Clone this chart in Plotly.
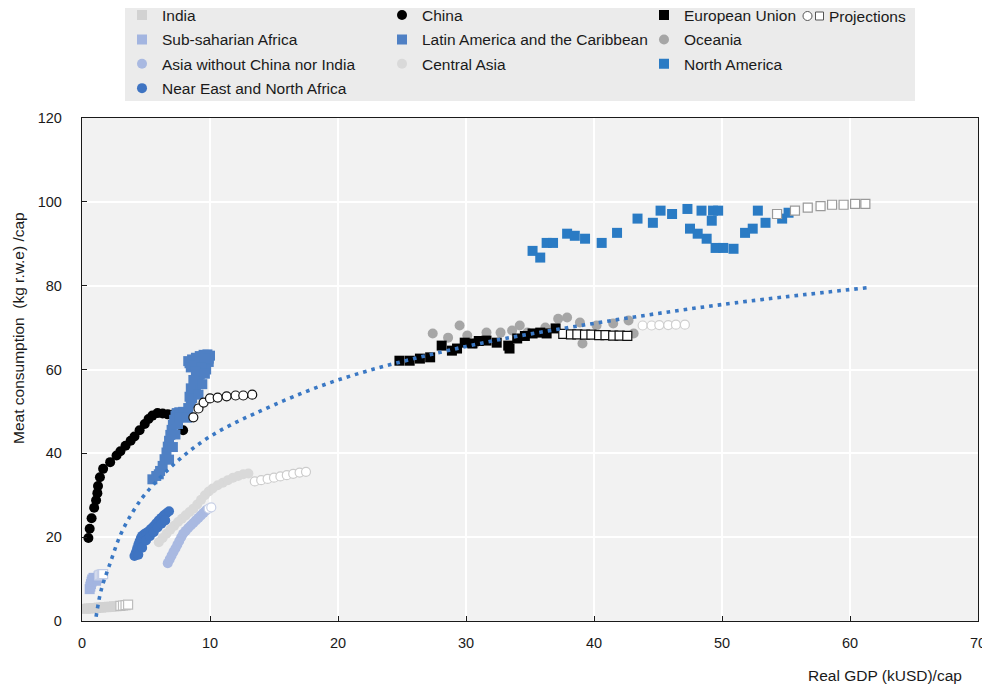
import plotly.graph_objects as go

# ---------------- data ----------------
india_x = [0.3, 0.5, 0.7, 0.9, 1.1, 1.3, 1.5, 1.7, 1.9, 2.1, 2.3, 2.5, 2.7, 2.9]
india_y = [2.9, 3.0, 3.0, 3.1, 3.1, 3.2, 3.2, 3.3, 3.3, 3.4, 3.4, 3.5, 3.5, 3.6]
india_px = [3.0, 3.2, 3.4, 3.6]
india_py = [3.6, 3.7, 3.8, 3.9]

ssa_x = [0.6, 0.65, 0.7, 0.75, 0.8, 0.9, 1.0, 1.1, 1.2, 1.3]
ssa_y = [7.6, 8.2, 8.8, 9.4, 9.9, 10.3, 10.0, 9.6, 10.2, 10.7]
ssa_px = [1.35, 1.45, 1.55, 1.65]
ssa_py = [10.9, 11.0, 11.1, 11.2]

china_x = [0.5, 0.6, 0.75, 0.95, 1.1, 1.2, 1.25, 1.4, 1.65, 2.2, 2.7, 3.0, 3.4, 3.8,
           4.1, 4.5, 4.9, 5.2, 5.5, 5.9, 6.3, 6.7, 7.0, 7.5, 7.9]
china_y = [19.8, 22.0, 24.5, 27.0, 28.8, 30.5, 32.2, 34.3, 36.3, 37.9, 39.5, 40.5, 41.8, 43.0,
           44.0, 45.5, 47.0, 48.2, 49.0, 49.6, 49.5, 49.3, 49.2, 49.0, 45.5]
china_px = [8.7, 9.1, 9.5, 10.0, 10.6, 11.3, 12.0, 12.6, 13.3]
china_py = [48.6, 50.7, 52.1, 53.1, 53.3, 53.6, 53.8, 53.8, 54.0]

latam_x = [5.5, 5.8, 6.1, 6.3, 6.45, 6.6, 6.7, 6.8, 6.9, 7.0, 7.1, 7.2, 7.3, 7.4, 7.6, 7.9,
           8.1, 8.3, 8.5, 8.6, 8.7, 8.8, 8.9, 9.0, 9.1, 9.2, 9.3, 9.4, 9.5, 9.6, 8.4, 8.6,
           8.9, 9.2, 9.5, 9.8, 10.0, 9.9, 9.7, 6.0, 6.8, 7.1, 7.3, 7.5, 7.6,
           8.3, 8.5, 8.8, 9.2, 9.6, 9.9, 9.3, 8.9, 8.4, 8.5, 8.7, 9.6, 9.4, 9.1, 8.2]
latam_y = [33.8, 34.6, 35.8, 37.0, 38.6, 40.2, 41.6, 43.0, 44.4, 45.6, 46.8, 48.0, 49.0, 49.6, 49.8, 49.9,
           49.5, 50.8, 52.0, 53.2, 54.3, 55.3, 56.3, 57.2, 58.0, 58.8, 59.6, 60.3, 60.8, 61.3, 61.5, 62.4,
           62.8, 63.2, 63.5, 63.6, 63.3, 61.8, 60.0, 35.0, 38.5, 41.5, 44.5, 47.0, 48.6,
           62.0, 60.5, 61.0, 61.8, 62.5, 62.6, 60.5, 59.5, 53.5, 55.5, 57.5, 59.0, 56.5, 54.0, 48.5]

nena_x = [4.1, 4.2, 4.3, 4.4, 4.5, 4.6, 4.7, 4.85, 5.0, 5.2, 5.4, 5.6, 5.8, 6.0, 6.2, 6.4, 6.6, 6.8,
          4.4, 4.7, 5.0, 5.3, 5.6, 5.9, 6.2, 6.5]
nena_y = [15.5, 16.3, 17.2, 18.2, 19.0, 19.8, 20.3, 20.7, 21.0, 21.4, 22.0, 22.6, 23.3, 24.0, 24.6, 25.2, 25.7, 26.2,
          15.8, 17.5, 19.2, 20.2, 21.2, 22.3, 23.2, 24.0]

asia_x = [6.7, 6.85, 7.0, 7.15, 7.3, 7.45, 7.6, 7.75, 7.9, 8.1, 8.3, 8.5, 8.7, 8.9, 9.1, 9.3, 9.5, 9.7]
asia_y = [13.8, 14.7, 15.6, 16.5, 17.3, 18.2, 19.1, 20.0, 20.8, 21.5, 22.2, 22.8, 23.4, 24.0, 24.6, 25.2, 25.8, 26.4]
asia_px = [9.9, 10.1]
asia_py = [26.8, 27.1]

casia_x = [6.0, 6.3, 6.6, 6.9, 7.2, 7.5, 7.8, 8.1, 8.4, 8.7, 9.0, 9.3, 9.6, 9.9, 10.2,
           10.6, 11.0, 11.4, 11.8, 12.2, 12.6, 13.0]
casia_y = [18.8, 19.8, 20.8, 21.8, 22.7, 23.6, 24.4, 25.2, 26.0, 26.8, 27.8, 28.9, 30.0, 30.9, 31.6,
           32.4, 33.0, 33.6, 34.2, 34.6, 35.0, 35.2]
casia_px = [13.5, 14.0, 14.5, 15.0, 15.5, 16.0, 16.5, 17.0, 17.5]
casia_py = [33.3, 33.6, 33.9, 34.2, 34.5, 34.8, 35.1, 35.4, 35.6]

eu_x = [24.8, 25.6, 26.4, 27.2, 28.1, 28.9, 29.3, 29.9, 30.5, 31.0, 31.6, 32.4, 33.3, 33.4,
        34.0, 34.6, 35.2, 35.8, 36.3, 37.0]
eu_y = [62.1, 62.1, 62.6, 62.9, 65.7, 64.5, 65.0, 66.4, 66.2, 66.8, 66.9, 66.4, 65.7, 65.0,
        67.4, 68.0, 68.6, 68.8, 68.6, 69.8]
eu_px = [37.6, 38.2, 38.7, 39.3, 39.8, 40.4, 40.9, 41.5, 42.0, 42.6]
eu_py = [68.5, 68.4, 68.4, 68.3, 68.3, 68.2, 68.2, 68.1, 68.1, 68.0]

oce_x = [27.4, 28.6, 29.5, 30.1, 30.7, 31.6, 32.7, 33.6, 34.2, 34.8, 36.2, 37.2, 37.9, 38.9,
         39.1, 40.2, 41.5, 42.7, 43.1]
oce_y = [68.6, 67.6, 70.5, 68.1, 66.2, 68.8, 68.8, 69.3, 70.5, 68.8, 70.0, 72.1, 72.4, 71.2,
         66.2, 70.5, 71.0, 71.7, 68.6]
oce_px = [43.8, 44.5, 45.1, 45.8, 46.4, 47.1]
oce_py = [70.5, 70.5, 70.6, 70.6, 70.7, 70.7]

na_x = [35.2, 35.8, 36.3, 36.8, 37.9, 38.5, 39.3, 40.6, 41.8, 43.4, 44.6, 45.2, 46.1, 47.3, 48.4,
        49.3, 49.7, 49.2, 47.5, 48.1, 48.8, 49.5, 50.1, 50.9, 51.8, 52.4, 53.4, 52.8, 54.7, 55.2]
na_y = [88.3, 86.7, 90.2, 90.2, 92.4, 91.9, 91.2, 90.2, 92.6, 96.0, 95.0, 97.9, 97.1, 98.3, 97.9,
        97.9, 97.9, 95.5, 93.6, 92.4, 91.2, 89.0, 89.0, 88.8, 92.6, 93.6, 95.0, 97.9, 96.0, 97.4]
na_px = [54.3, 55.7, 56.7, 57.7, 58.6, 59.5, 60.4, 61.2]
na_py = [97.1, 97.9, 98.6, 99.0, 99.3, 99.3, 99.5, 99.5]

trend_x = [1.1, 1.5, 2.2, 3, 4, 5, 7.4, 10, 13.5, 20, 30, 40, 50, 61.3]
trend_y = [1, 7.4, 13.8, 20.5, 26.2, 30.5, 38, 44, 49.5, 57.5, 65.5, 71, 75.5, 79.5]

x_ticks = [0, 10, 20, 30, 40, 50, 60, 70]
y_ticks = [0, 20, 40, 60, 80, 100, 120]

# ---------------- layout geometry ----------------
# the page body has an 8px margin, so figure coordinates = page coordinates - 8
OFF = 8
W, H = 982, 677
ML, MT = 74, 110
PLOT_R, PLOT_B = 970, 613
MR, MB = W - PLOT_R, H - PLOT_B
PW, PH = PLOT_R - ML, PLOT_B - MT


def px(xp):
    """page pixel x -> paper coordinate"""
    return (xp - OFF - ML) / PW


def py(yp):
    """page pixel y -> paper coordinate"""
    return (PLOT_B - (yp - OFF)) / PH


FONT = "Liberation Sans, Arial, sans-serif"
TXT = "#1a1a1a"
MS = 10

fig = go.Figure()


def hist(name, xs, ys, color, symbol, legend, rank):
    fig.add_trace(go.Scatter(
        x=xs, y=ys, mode="markers", name=name, legend=legend, legendrank=rank,
        legendgroup=name,
        marker=dict(color=color, symbol=symbol, size=MS, line=dict(width=0)),
        hoverinfo="x+y+name"))


def proj(xs, ys, outline, symbol):
    fig.add_trace(go.Scatter(
        x=xs, y=ys, mode="markers", showlegend=False,
        marker=dict(color="white", symbol=symbol, size=MS - 1,
                    line=dict(width=1.2, color=outline)),
        hoverinfo="x+y"))


C_INDIA = "#d2d2d2"
C_SSA = "#a3b5e0"
C_CASIA = "#d9d9d9"
C_ASIA = "#a9b9e1"
C_NENA = "#3f74c2"
C_CHINA = "#000000"
C_LATAM = "#4f80c4"
C_OCE = "#a6a6a6"
C_EU = "#000000"
C_NA = "#2a7bc4"

hist("India", india_x, india_y, C_INDIA, "square", "legend", 1)
hist("Sub-saharian Africa", ssa_x, ssa_y, C_SSA, "square", "legend", 2)
hist("Central Asia", casia_x, casia_y, C_CASIA, "circle", "legend2", 3)
hist("Asia without China nor India", asia_x, asia_y, C_ASIA, "circle", "legend", 3)
hist("Near East and North Africa", nena_x, nena_y, C_NENA, "circle", "legend", 4)
hist("China", china_x, china_y, C_CHINA, "circle", "legend2", 1)
hist("Latin America and the Caribbean", latam_x, latam_y, C_LATAM, "square", "legend2", 2)
hist("Oceania", oce_x, oce_y, C_OCE, "circle", "legend3", 2)
hist("European Union", eu_x, eu_y, C_EU, "square", "legend3", 1)
hist("North America", na_x, na_y, C_NA, "square", "legend3", 3)

proj(india_px, india_py, "#bdbdbd", "square")
proj(ssa_px, ssa_py, "#c3cde6", "square")
proj(asia_px, asia_py, "#c8d0e6", "circle")
proj(casia_px, casia_py, "#cccccc", "circle")
proj(china_px, china_py, "#111111", "circle")
proj(oce_px, oce_py, "#cfcfcf", "circle")
proj(eu_px, eu_py, "#111111", "square")
proj(na_px, na_py, "#9a9a9a", "square")

fig.add_trace(go.Scatter(
    x=trend_x, y=trend_y, mode="lines", showlegend=False,
    line=dict(color="#3a78c4", width=3.6, dash="3.6px,5px", shape="spline", smoothing=1.0),
    hoverinfo="skip"))

LEG_FONT = 15.5
legend_common = dict(
    orientation="v", bgcolor="rgba(0,0,0,0)", borderwidth=0,
    font=dict(family=FONT, size=LEG_FONT, color=TXT), itemsizing="trace",
    xanchor="left", yanchor="top", tracegroupgap=1.2,
)
LEG_TOP = -1.5   # page px of the legend boxes' top edge
fig.update_layout(
    legend=dict(x=px(122), y=py(LEG_TOP), **legend_common),
    legend2=dict(x=px(382), y=py(LEG_TOP), **legend_common),
    legend3=dict(x=px(644), y=py(LEG_TOP), **legend_common),
)

# Legend panel background and the "Projections" key
shapes = [
    dict(type="rect", xref="paper", yref="paper", x0=px(125), x1=px(915), y0=py(101), y1=py(2),
         fillcolor="#ebebeb", line=dict(width=0), layer="below"),
    dict(type="circle", xref="paper", yref="paper", x0=px(803), x1=px(812), y0=py(20.5), y1=py(11.5),
         fillcolor="white", line=dict(width=1, color="#555555")),
    dict(type="rect", xref="paper", yref="paper", x0=px(815.5), x1=px(823.5), y0=py(20), y1=py(12),
         fillcolor="white", line=dict(width=1, color="#555555")),
]
annotations = [
    dict(text="Projections", xref="paper", yref="paper", x=px(827), y=py(16), xanchor="left",
         yanchor="middle", showarrow=False, font=dict(family=FONT, size=LEG_FONT, color=TXT)),
    dict(text="Meat consumption\u00a0 (kg r.w.e) /cap", xref="paper", yref="paper",
         x=px(18), y=py(328), xanchor="center", yanchor="middle", textangle=-90,
         showarrow=False, font=dict(family=FONT, size=15.5, color=TXT)),
    dict(text="Real GDP (kUSD)/cap", xref="paper", yref="paper", x=px(964), y=py(675),
         xanchor="right", yanchor="middle", showarrow=False,
         font=dict(family=FONT, size=15.5, color=TXT)),
]

axis_common = dict(
    showline=True, linecolor="#1a1a1a", linewidth=1.3, mirror=True,
    ticks="inside", ticklen=5, tickwidth=1, tickcolor="#1a1a1a",
    showgrid=True, gridcolor="white", gridwidth=1.5, zeroline=False,
    tickfont=dict(family=FONT, size=14.5, color=TXT),
)

fig.update_layout(
    width=W, height=H,
    margin=dict(l=ML, r=MR, t=MT, b=MB, autoexpand=False),
    paper_bgcolor="white", plot_bgcolor="#f2f2f2",
    xaxis=dict(range=[0, 70], tickvals=x_ticks, ticklabelstandoff=8, **axis_common),
    yaxis=dict(range=[0, 120], tickvals=y_ticks, ticklabelstandoff=16, **axis_common),
    shapes=shapes, annotations=annotations,
    showlegend=True,
)

fig.write_html("out.html")
